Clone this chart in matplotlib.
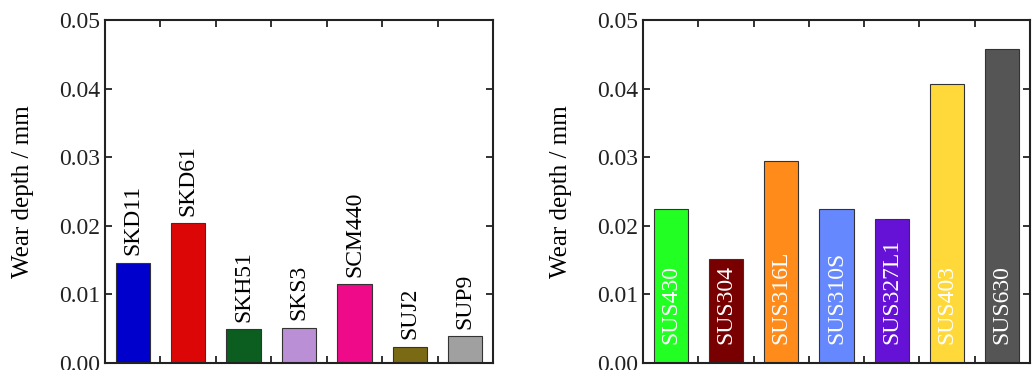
import matplotlib
matplotlib.use('Agg')
import matplotlib.pyplot as plt

plt.rcParams['font.family'] = ['Liberation Serif', 'DejaVu Serif']

# left panel: tool / structural steels
left_names = ['SKD11', 'SKD61', 'SKH51', 'SKS3', 'SCM440', 'SUJ2', 'SUP9']
left_depth = [0.0146, 0.0204, 0.0049, 0.0051, 0.0115, 0.0024, 0.0039]
left_colors = ['#0000cc', '#dd0606', '#0b5e1f', '#bb8fd6', '#ee0a88', '#7a6a14', '#a0a0a0']

# right panel: stainless steels
right_names = ['SUS430', 'SUS304', 'SUS316L', 'SUS310S', 'SUS327L1', 'SUS403', 'SUS630']
right_depth = [0.0224, 0.0151, 0.0295, 0.0225, 0.0210, 0.0406, 0.0457]
right_colors = ['#22ff22', '#780000', '#ff8c1a', '#6688ff', '#6611d6', '#ffd93a', '#555555']

yticks = [0.00, 0.01, 0.02, 0.03, 0.04, 0.05]

fig = plt.figure(figsize=(10.32, 3.70), dpi=100)
ax1 = fig.add_axes([105 / 1032, 7 / 370, 388 / 1032, 343 / 370])
ax2 = fig.add_axes([643 / 1032, 7 / 370, 387 / 1032, 343 / 370])


def draw(ax, names, vals, colors, inside):
    x = range(len(names))
    ax.bar(x, vals, width=0.62, color=colors, edgecolor='#333333', linewidth=0.8)
    for i, (n, v) in enumerate(zip(names, vals)):
        if inside:
            ax.text(i, 0.0028, n, rotation=90, ha='center', va='bottom',
                    color='white', fontsize=17)
        else:
            ax.text(i, v + 0.0011, n, rotation=90, ha='center', va='bottom',
                    color='black', fontsize=17)
    ax.set_xlim(-0.5, len(names) - 0.5)
    ax.set_ylim(0, 0.05)
    ax.set_xticks([i + 0.5 for i in range(len(names) - 1)])
    ax.set_xticklabels([])
    ax.set_yticks(yticks)
    ax.set_yticklabels([f'{t:.2f}' for t in yticks])
    ax.tick_params(direction='in', top=True, right=True, length=5, width=1.3,
                   labelsize=17, colors='#222222')
    for s in ax.spines.values():
        s.set_linewidth(1.5)
        s.set_color('#222222')
    ax.set_ylabel('Wear depth / mm', fontsize=18, labelpad=18)


draw(ax1, left_names, left_depth, left_colors, inside=False)
draw(ax2, right_names, right_depth, right_colors, inside=True)

plt.savefig('out.png', dpi=100)
